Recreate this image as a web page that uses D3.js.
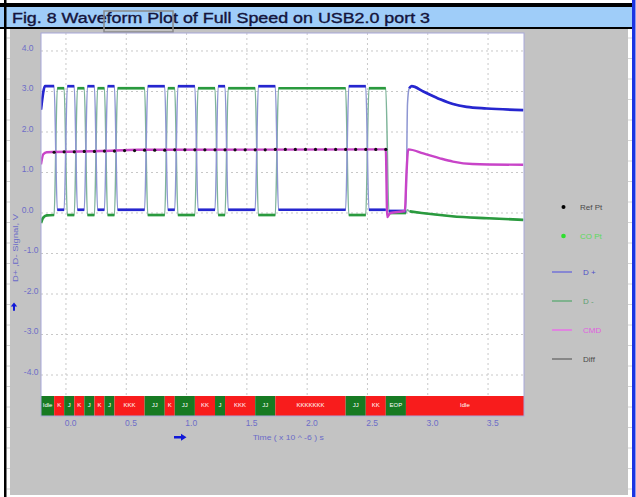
<!DOCTYPE html>
<html><head><meta charset="utf-8">
<script src="https://cdn.jsdelivr.net/npm/d3@7"></script>
<style>
body{margin:0;background:#fff;}
svg{display:block;}
text{font-family:"Liberation Sans",Arial,sans-serif;}
</style>
</head><body>
<svg id="c" width="636" height="497"></svg>
<script>
// ---------------- data ----------------
const chartTitle = "Fig. 8 Waveform Plot of Full Speed on USB2.0 port 3";
const yTicks = [4, 3, 2, 1, 0, -1, -2, -3, -4];
const xTicks = [0, 0.5, 1.0, 1.5, 2.0, 2.5, 3.0, 3.5];
const yTitle = "D+ ,D- Signal, V";
const xTitle = "Time ( x 10 ^ -6 ) s";

// bus-state bar (time in µs)
const segLabel = ["Idle","K","J","K","J","K","J","KKK","JJ","K","JJ","KK","J","KKK","JJ","KKKKKKK","JJ","KK","EOP","Idle"];
const segState = ["J","K","J","K","J","K","J","K","J","K","J","K","J","K","J","K","J","K","SE0","J"];
const segFill  = ["g","r","g","r","g","r","g","r","g","r","g","r","g","r","g","r","g","r","g","r"];
const segStart = [-0.207,-0.098,-0.015,0.069,0.152,0.236,0.319,0.402,0.652,0.819,0.902,1.069,1.236,1.319,1.569,1.736,2.319,2.486,2.652,2.819];
const tEnd = 3.798;

// signal levels (V)
const dpJ = 3.13, dpK = 0.08, dpSE0 = 0.05;
const dmJ = -0.05, dmK = 3.08, dmSE0 = 0.0;
const riseTime = 0.026;

// D+ start and tail after EOP [t, V]
const dpHead = [[-0.207,2.55],[-0.19,2.95],[-0.175,3.13]];
const dpTail = [[2.832,2.7],[2.846,3.08],[2.866,3.13],[2.963,3.0],[3.101,2.81],[3.209,2.69],[3.322,2.62],[3.488,2.58],[3.792,2.54]];
// D- start and tail
const dmHead = [[-0.207,-0.25],[-0.19,-0.12],[-0.16,-0.06]];
const dmTail = [[2.83,0.08],[2.85,0.04],[2.95,0.0],[3.2,-0.08],[3.5,-0.13],[3.792,-0.17]];
// CMD (common mode)
const cmdPts = [[-0.207,1.2],[-0.188,1.45],[-0.16,1.5],[0.3,1.53],[0.6,1.56],[2.652,1.57],[2.664,-0.1],[2.69,0.0],[2.81,0.05],[2.824,1.0],[2.838,1.57],[2.963,1.47],[3.101,1.35],[3.209,1.27],[3.37,1.21],[3.792,1.19]];
// reference points (bit boundaries on CMD)
const refT = [-0.098,-0.015,0.069,0.152,0.236,0.319,0.402,0.486,0.569,0.652,0.736,0.819,0.902,0.986,1.069,1.152,1.236,1.319,1.402,1.486,1.569,1.652,1.736,1.819,1.902,1.986,2.069,2.152,2.236,2.319,2.402,2.486,2.569,2.652];
const refV = [1.5,1.51,1.51,1.52,1.52,1.53,1.53,1.54,1.54,1.55,1.55,1.55,1.56,1.56,1.56,1.56,1.56,1.56,1.56,1.56,1.56,1.56,1.57,1.57,1.57,1.57,1.57,1.57,1.57,1.57,1.57,1.57,1.57,1.57];

const legendNames = ["Ref Pt","CO Pt","D +","D -","CMD","Diff"];

// ---------------- drawing ----------------
const svg = d3.select("#c");
const W = 636, H = 497;
const P = {l:41, r:524, t:33, b:416, wave:396};

const x = d3.scaleLinear().domain([segStart[0], tEnd]).range([P.l, P.r]);
const y = d3.scaleLinear().domain([-5.012, 4.444]).range([P.b, P.t]);

// page
svg.append("rect").attr("width",W).attr("height",H).attr("fill","#fff");
svg.append("rect").attr("x",10).attr("y",29).attr("width",618).attr("height",466).attr("fill","#c3c3c3");
// faint spreadsheet cell lines in margins
const rowLines = d3.range(0, 24).map(i => 489 - i*20.5).filter(v => v > 30);
svg.selectAll(".rl").data(rowLines).enter().append("line")
  .attr("x1",6.5).attr("x2",10).attr("y1",d=>d).attr("y2",d=>d).attr("stroke","#d4d4d4");
svg.selectAll(".rr").data(rowLines).enter().append("line")
  .attr("x1",628).attr("x2",632).attr("y1",d=>d).attr("y2",d=>d).attr("stroke","#d4d4d4");

// title bar
svg.append("rect").attr("x",0).attr("y",7).attr("width",632).attr("height",20).attr("fill","#9fcdf9");
svg.append("rect").attr("x",0).attr("y",3).attr("width",632).attr("height",4).attr("fill","#000");
svg.append("rect").attr("x",0).attr("y",27).attr("width",632).attr("height",2).attr("fill","#000");
svg.append("rect").attr("x",4).attr("y",0).attr("width",2.5).attr("height",H).attr("fill","#000");
svg.append("rect").attr("x",632).attr("y",0).attr("width",3.5).attr("height",H).attr("fill","#1c34e2");
svg.append("text").attr("x",12).attr("y",22.5).attr("font-size",14).attr("fill","#14143c")
  .attr("stroke","#14143c").attr("stroke-width",0.35)
  .attr("textLength",418).attr("lengthAdjust","spacingAndGlyphs").text(chartTitle);
svg.append("rect").attr("x",104).attr("y",11).attr("width",69).attr("height",21)
  .attr("fill","none").attr("stroke","#8a8a8a").attr("stroke-width",1.5);

// plot area
svg.append("rect").attr("x",P.l).attr("y",P.t).attr("width",P.r-P.l).attr("height",P.b-P.t).attr("fill","#fff");

const grid = svg.append("g").attr("stroke","#c8c8c8").attr("stroke-dasharray","2,3").attr("stroke-width",1);
grid.selectAll(".gx").data(xTicks).enter().append("line")
  .attr("x1",d=>x(d)).attr("x2",d=>x(d)).attr("y1",P.t).attr("y2",P.wave);
grid.selectAll(".gy").data(yTicks).enter().append("line")
  .attr("x1",P.l).attr("x2",P.r).attr("y1",d=>y(d)).attr("y2",d=>y(d));

// clip
svg.append("clipPath").attr("id","pc").append("rect")
  .attr("x",P.l).attr("y",P.t).attr("width",P.r-P.l).attr("height",P.wave-P.t);

function lv(state, J, K, S){ return state==="J"?J:(state==="K"?K:S); }
function buildPts(J,K,S,head,tail){
  const pts = head.slice();
  for (let i=1;i<segStart.length-1;i++){
    pts.push([segStart[i], lv(segState[i-1],J,K,S)]);
    pts.push([segStart[i]+riseTime, lv(segState[i],J,K,S)]);
  }
  const n = segStart.length-1;
  pts.push([segStart[n], lv(segState[n-1],J,K,S)]);
  return pts.concat(tail);
}
function plateaus(J,K,S,head,tail){
  const out = [head.concat([[segStart[1], lv(segState[0],J,K,S)]])];
  for (let i=1;i<segStart.length-1;i++){
    const v = lv(segState[i],J,K,S);
    out.push([[segStart[i]+riseTime, v],[segStart[i+1], v]]);
  }
  out.push(tail.slice(1));
  return out;
}

const line = d3.line().x(d=>x(d[0])).y(d=>y(d[1])).curve(d3.curveMonotoneX);
const plot = svg.append("g").attr("clip-path","url(#pc)");

const dpPts = buildPts(dpJ,dpK,dpSE0,dpHead,dpTail);
const dmPts = buildPts(dmJ,dmK,dmSE0,dmHead,dmTail);

plot.append("path").datum(dmPts).attr("d",line).attr("fill","none")
  .attr("stroke","#7fb59a").attr("stroke-width",1.5);
plot.append("path").datum(dpPts).attr("d",line).attr("fill","none")
  .attr("stroke","#8e96d2").attr("stroke-width",1.5);

plot.selectAll(".pdm").data(plateaus(dmJ,dmK,dmSE0,dmHead,dmTail)).enter().append("path")
  .attr("d",line).attr("fill","none").attr("stroke","#2a9a3e").attr("stroke-width",2.7);
plot.selectAll(".pdp").data(plateaus(dpJ,dpK,dpSE0,dpHead,dpTail)).enter().append("path")
  .attr("d",line).attr("fill","none").attr("stroke","#2626cf").attr("stroke-width",2.7);

plot.append("path").datum(cmdPts).attr("d",line).attr("fill","none")
  .attr("stroke","#c844c8").attr("stroke-width",2.4);

plot.selectAll(".ref").data(refT).enter().append("circle")
  .attr("cx",d=>x(d)).attr("cy",(d,i)=>y(refV[i])).attr("r",1.6).attr("fill","#111");

// state bar
const bar = svg.append("g");
bar.selectAll("rect").data(segLabel).enter().append("rect")
  .attr("x",(d,i)=>x(segStart[i]))
  .attr("width",(d,i)=>x(i<segStart.length-1?segStart[i+1]:tEnd)-x(segStart[i]))
  .attr("y",P.wave).attr("height",P.b-P.wave)
  .attr("fill",(d,i)=>segFill[i]==="g"?"#177a22":"#f81c1c");
bar.selectAll("text").data(segLabel).enter().append("text")
  .attr("x",(d,i)=>(x(segStart[i])+x(i<segStart.length-1?segStart[i+1]:tEnd))/2)
  .attr("y",(P.wave+P.b)/2-1).attr("dominant-baseline","middle").attr("text-anchor","middle")
  .attr("font-size",6).attr("fill","#fff").text(d=>d);

svg.append("rect").attr("x",P.l).attr("y",P.t).attr("width",P.r-P.l).attr("height",P.b-P.t)
  .attr("fill","none").attr("stroke","#a8a8da").attr("stroke-width",1);

// axes labels
svg.selectAll(".yt").data(yTicks).enter().append("text")
  .attr("x",d=>d<0?38.5:33.5).attr("y",d=>y(d)-2.5).attr("text-anchor","end")
  .attr("dominant-baseline","middle").attr("font-size",8.5).attr("fill","#6e6ec8")
  .text(d=>d.toFixed(1));
svg.selectAll(".xt").data(xTicks).enter().append("text")
  .attr("x",d=>x(d)+4.7).attr("y",424).attr("text-anchor","middle")
  .attr("dominant-baseline","middle").attr("font-size",8.5).attr("fill","#6e6ec8")
  .text(d=>d.toFixed(1));
svg.append("text").attr("x",252.7).attr("y",438).attr("dominant-baseline","middle")
  .attr("font-size",8).attr("fill","#6a6ac8").attr("textLength",71).attr("lengthAdjust","spacingAndGlyphs")
  .text(xTitle);
svg.append("text").attr("transform","translate(16,248) rotate(-90)").attr("text-anchor","middle")
  .attr("dominant-baseline","middle").attr("font-size",8).attr("fill","#6a6ac8")
  .attr("textLength",68).attr("lengthAdjust","spacingAndGlyphs").text(yTitle);

// arrows
svg.append("path").attr("d","M14,302.5 L10.8,306.6 L13,306.6 L13,310.8 L15,310.8 L15,306.6 L17.2,306.6 Z").attr("fill","#1018d8");
svg.append("path").attr("d","M186.5,437.3 L181,433.8 L181,436 L174,436 L174,438.6 L181,438.6 L181,440.8 Z").attr("fill","#1018d8");

// legend
const lg = svg.append("g");
const lgY = [207,236,272,301,330,359];
const lgText = ["#4a4a4a","#5ada5a","#5050c8","#5e9e70","#e060e0","#4a4a4a"];
const lgLine = [null,null,"#8080d4","#78b088","#e27ee2","#808080"];
legendNames.forEach((n,i)=>{
  if (i===0) lg.append("circle").attr("cx",563.5).attr("cy",lgY[i]).attr("r",2).attr("fill","#000");
  else if (i===1) lg.append("circle").attr("cx",563.5).attr("cy",lgY[i]).attr("r",2.3).attr("fill","#2ee02e");
  else lg.append("line").attr("x1",552).attr("x2",572).attr("y1",lgY[i]).attr("y2",lgY[i])
        .attr("stroke",lgLine[i]).attr("stroke-width",1.8);
  lg.append("text").attr("x",i<2?580:583).attr("y",lgY[i]+1).attr("dominant-baseline","middle")
    .attr("font-size",8).attr("fill",lgText[i]).text(n);
});
</script>
</body></html>
